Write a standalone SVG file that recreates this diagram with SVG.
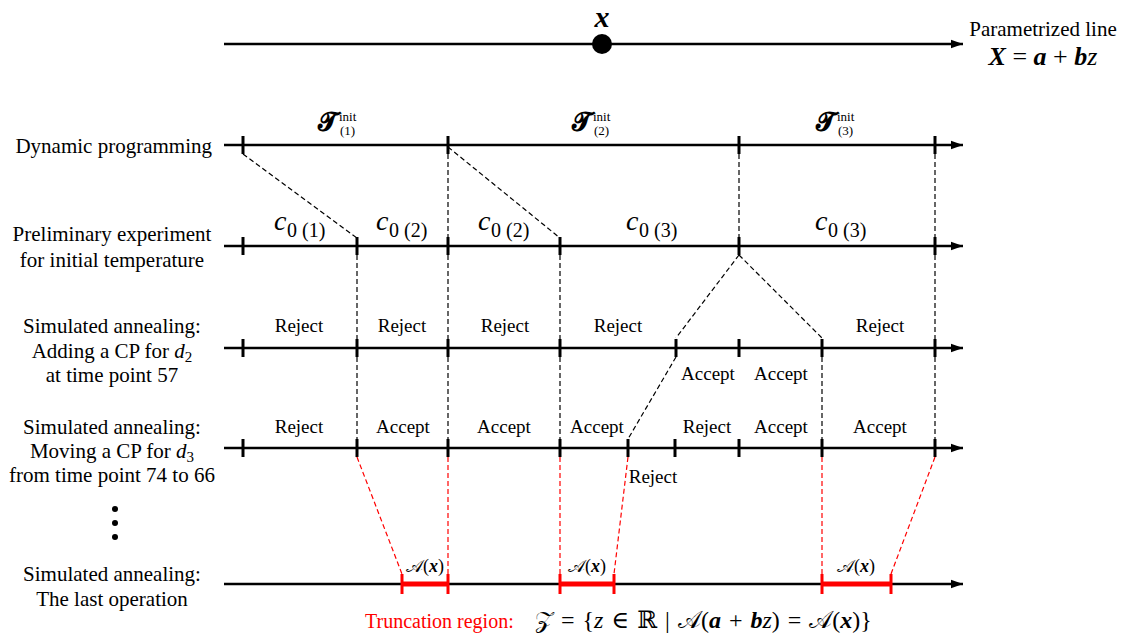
<svg xmlns="http://www.w3.org/2000/svg" width="1131" height="635" viewBox="0 0 1131 635">
<style>
.ln{stroke:#000;stroke-width:2.5;fill:none}
.tk{stroke:#000;stroke-width:3}
.rtk{stroke:#f00;stroke-width:3}
.dash{stroke:#000;stroke-width:1.2;stroke-dasharray:5,3;fill:none}
.rdash{stroke:#f00;stroke-width:1.2;stroke-dasharray:5,3;fill:none}
text{font-family:"Liberation Serif","Times New Roman",Tinos,"DejaVu Serif","Noto Serif",serif}
.lab{font-size:21px;fill:#000;text-anchor:middle}
.sm{font-size:19px;fill:#000;text-anchor:middle}
.m{fill:#000}
</style>
<defs>
<marker id="ah" viewBox="0 0 10 10" refX="10" refY="5" markerWidth="5" markerHeight="5" markerUnits="strokeWidth" orient="auto">
<path d="M0,1.5 L10,5 L0,8.5 z" fill="#000"/>
</marker>
</defs>

<g id="param-line">
<line class="ln" x1="224" y1="44" x2="963" y2="44" marker-end="url(#ah)"/>
<circle cx="602" cy="44" r="10" fill="#000"/>
<text class="m" x="602" y="27" font-size="30" font-weight="bold" font-style="italic" text-anchor="middle">x</text>
<text class="lab" x="1043" y="36" font-size="20">Parametrized line</text>
<text class="m" x="1043" y="65" font-size="26" text-anchor="middle"><tspan font-weight="bold" font-style="italic">X</tspan> = <tspan font-weight="bold" font-style="italic">a</tspan> + <tspan font-weight="bold" font-style="italic">b</tspan><tspan font-style="italic">z</tspan></text>
</g>

<g id="row-dp">
<text class="lab" x="212" y="153" style="text-anchor:end">Dynamic programming</text>
<line class="ln" x1="224" y1="145" x2="963" y2="145" marker-end="url(#ah)"/>
<line class="tk" x1="243" y1="136" x2="243" y2="154"/>
<line class="tk" x1="448" y1="136" x2="448" y2="154"/>
<line class="tk" x1="739" y1="136" x2="739" y2="154"/>
<line class="tk" x1="935" y1="136" x2="935" y2="154"/>
<text class="m" x="318" y="130" font-size="25" font-weight="bold">𝓣</text><text class="m" x="339" y="121" font-size="13">init</text><text class="m" x="340" y="135" font-size="13">(1)</text>
<text class="m" x="572" y="130" font-size="25" font-weight="bold">𝓣</text><text class="m" x="593" y="121" font-size="13">init</text><text class="m" x="594" y="135" font-size="13">(2)</text>
<text class="m" x="816" y="130" font-size="25" font-weight="bold">𝓣</text><text class="m" x="837" y="121" font-size="13">init</text><text class="m" x="838" y="135" font-size="13">(3)</text>
</g>

<g id="row-prelim">
<text class="lab" x="112" y="241">Preliminary experiment</text>
<text class="lab" x="112" y="267">for initial temperature</text>
<line class="ln" x1="224" y1="246" x2="963" y2="246" marker-end="url(#ah)"/>
<line class="tk" x1="243" y1="237" x2="243" y2="255"/>
<line class="tk" x1="357" y1="237" x2="357" y2="255"/>
<line class="tk" x1="448" y1="237" x2="448" y2="255"/>
<line class="tk" x1="560" y1="237" x2="560" y2="255"/>
<line class="tk" x1="739" y1="237" x2="739" y2="255"/>
<line class="tk" x1="935" y1="237" x2="935" y2="255"/>
<text class="m" x="274" y="230" font-size="28" font-style="italic">c</text><text class="m" x="287" y="237" font-size="20">0 (1)</text>
<text class="m" x="376" y="230" font-size="28" font-style="italic">c</text><text class="m" x="389" y="237" font-size="20">0 (2)</text>
<text class="m" x="478" y="230" font-size="28" font-style="italic">c</text><text class="m" x="491" y="237" font-size="20">0 (2)</text>
<text class="m" x="626" y="230" font-size="28" font-style="italic">c</text><text class="m" x="639" y="237" font-size="20">0 (3)</text>
<text class="m" x="815" y="230" font-size="28" font-style="italic">c</text><text class="m" x="828" y="237" font-size="20">0 (3)</text>
</g>

<g id="row-sa-add">
<text class="lab" x="112" y="333">Simulated annealing:</text>
<text class="lab" x="112" y="358">Adding a CP for <tspan font-style="italic">d</tspan><tspan font-size="15" dy="4">2</tspan></text>
<text class="lab" x="112" y="382">at time point 57</text>
<line class="ln" x1="224" y1="348" x2="963" y2="348" marker-end="url(#ah)"/>
<line class="tk" x1="243" y1="339" x2="243" y2="357"/>
<line class="tk" x1="357" y1="339" x2="357" y2="357"/>
<line class="tk" x1="448" y1="339" x2="448" y2="357"/>
<line class="tk" x1="560" y1="339" x2="560" y2="357"/>
<line class="tk" x1="676" y1="339" x2="676" y2="357"/>
<line class="tk" x1="739" y1="339" x2="739" y2="357"/>
<line class="tk" x1="822" y1="339" x2="822" y2="357"/>
<line class="tk" x1="935" y1="339" x2="935" y2="357"/>
<text class="sm" x="299" y="332">Reject</text>
<text class="sm" x="402" y="332">Reject</text>
<text class="sm" x="505" y="332">Reject</text>
<text class="sm" x="618" y="332">Reject</text>
<text class="sm" x="880" y="332">Reject</text>
<text class="sm" x="708" y="380">Accept</text>
<text class="sm" x="781" y="380">Accept</text>
</g>

<g id="row-sa-move">
<text class="lab" x="112" y="434">Simulated annealing:</text>
<text class="lab" x="112" y="458">Moving a CP for <tspan font-style="italic">d</tspan><tspan font-size="15" dy="4">3</tspan></text>
<text class="lab" x="112" y="482">from time point 74 to 66</text>
<line class="ln" x1="224" y1="448" x2="963" y2="448" marker-end="url(#ah)"/>
<line class="tk" x1="243" y1="439" x2="243" y2="457"/>
<line class="tk" x1="357" y1="439" x2="357" y2="457"/>
<line class="tk" x1="448" y1="439" x2="448" y2="457"/>
<line class="tk" x1="560" y1="439" x2="560" y2="457"/>
<line class="tk" x1="628" y1="439" x2="628" y2="457"/>
<line class="tk" x1="675" y1="439" x2="675" y2="457"/>
<line class="tk" x1="739" y1="439" x2="739" y2="457"/>
<line class="tk" x1="822" y1="439" x2="822" y2="457"/>
<line class="tk" x1="935" y1="439" x2="935" y2="457"/>
<text class="sm" x="299" y="433">Reject</text>
<text class="sm" x="403" y="433">Accept</text>
<text class="sm" x="504" y="433">Accept</text>
<text class="sm" x="597" y="433">Accept</text>
<text class="sm" x="707" y="433">Reject</text>
<text class="sm" x="781" y="433">Accept</text>
<text class="sm" x="880" y="433">Accept</text>
<text class="sm" x="653" y="483">Reject</text>
</g>

<g id="ellipsis">
<circle cx="115" cy="509" r="3" fill="#000"/>
<circle cx="115" cy="523" r="3" fill="#000"/>
<circle cx="115" cy="537" r="3" fill="#000"/>
</g>

<g id="row-last">
<text class="lab" x="112" y="581">Simulated annealing:</text>
<text class="lab" x="112" y="606">The last operation</text>
<line class="ln" x1="224" y1="584" x2="963" y2="584" marker-end="url(#ah)"/>
<line stroke="#f00" stroke-width="5" x1="402" y1="584" x2="448" y2="584"/>
<line class="rtk" x1="402" y1="574" x2="402" y2="594"/>
<line class="rtk" x1="448" y1="574" x2="448" y2="594"/>
<line stroke="#f00" stroke-width="5" x1="560" y1="584" x2="614" y2="584"/>
<line class="rtk" x1="560" y1="574" x2="560" y2="594"/>
<line class="rtk" x1="614" y1="574" x2="614" y2="594"/>
<line stroke="#f00" stroke-width="5" x1="822" y1="584" x2="891" y2="584"/>
<line class="rtk" x1="822" y1="574" x2="822" y2="594"/>
<line class="rtk" x1="891" y1="574" x2="891" y2="594"/>
<text class="m" x="425" y="572" font-size="18" text-anchor="middle">𝒜(<tspan font-weight="bold" font-style="italic">x</tspan>)</text>
<text class="m" x="587" y="572" font-size="18" text-anchor="middle">𝒜(<tspan font-weight="bold" font-style="italic">x</tspan>)</text>
<text class="m" x="856" y="572" font-size="18" text-anchor="middle">𝒜(<tspan font-weight="bold" font-style="italic">x</tspan>)</text>
</g>

<g id="truncation-label">
<text class="m" x="365" y="628" font-size="20" style="fill:#f00">Truncation region:</text>
<text class="m" x="535" y="628" font-size="24" word-spacing="2">𝒵 = {<tspan font-style="italic">z</tspan> ∈ ℝ | 𝒜(<tspan font-weight="bold" font-style="italic">a</tspan> + <tspan font-weight="bold" font-style="italic">b</tspan><tspan font-style="italic">z</tspan>) = 𝒜(<tspan font-weight="bold" font-style="italic">x</tspan>)}</text>
</g>

<g id="connectors">
<line class="dash" x1="243" y1="154" x2="357" y2="238"/>
<line class="dash" x1="448" y1="154" x2="448" y2="237"/>
<line class="dash" x1="448" y1="147" x2="560" y2="238"/>
<line class="dash" x1="739" y1="154" x2="739" y2="237"/>
<line class="dash" x1="935" y1="154" x2="935" y2="237"/>
<line class="dash" x1="357" y1="255" x2="357" y2="339"/>
<line class="dash" x1="448" y1="255" x2="448" y2="339"/>
<line class="dash" x1="560" y1="255" x2="560" y2="339"/>
<line class="dash" x1="935" y1="255" x2="935" y2="339"/>
<line class="dash" x1="739" y1="255" x2="676" y2="338"/>
<line class="dash" x1="739" y1="255" x2="822" y2="338"/>
<line class="dash" x1="357" y1="357" x2="357" y2="439"/>
<line class="dash" x1="448" y1="357" x2="448" y2="439"/>
<line class="dash" x1="560" y1="357" x2="560" y2="439"/>
<line class="dash" x1="822" y1="357" x2="822" y2="439"/>
<line class="dash" x1="935" y1="357" x2="935" y2="439"/>
<line class="dash" x1="676" y1="357" x2="628" y2="439"/>
<line class="rdash" x1="357" y1="457" x2="402" y2="574"/>
<line class="rdash" x1="448" y1="457" x2="448" y2="574"/>
<line class="rdash" x1="560" y1="457" x2="560" y2="574"/>
<line class="rdash" x1="628" y1="457" x2="614" y2="574"/>
<line class="rdash" x1="822" y1="457" x2="822" y2="574"/>
<line class="rdash" x1="935" y1="457" x2="891" y2="574"/>
</g>
</svg>
